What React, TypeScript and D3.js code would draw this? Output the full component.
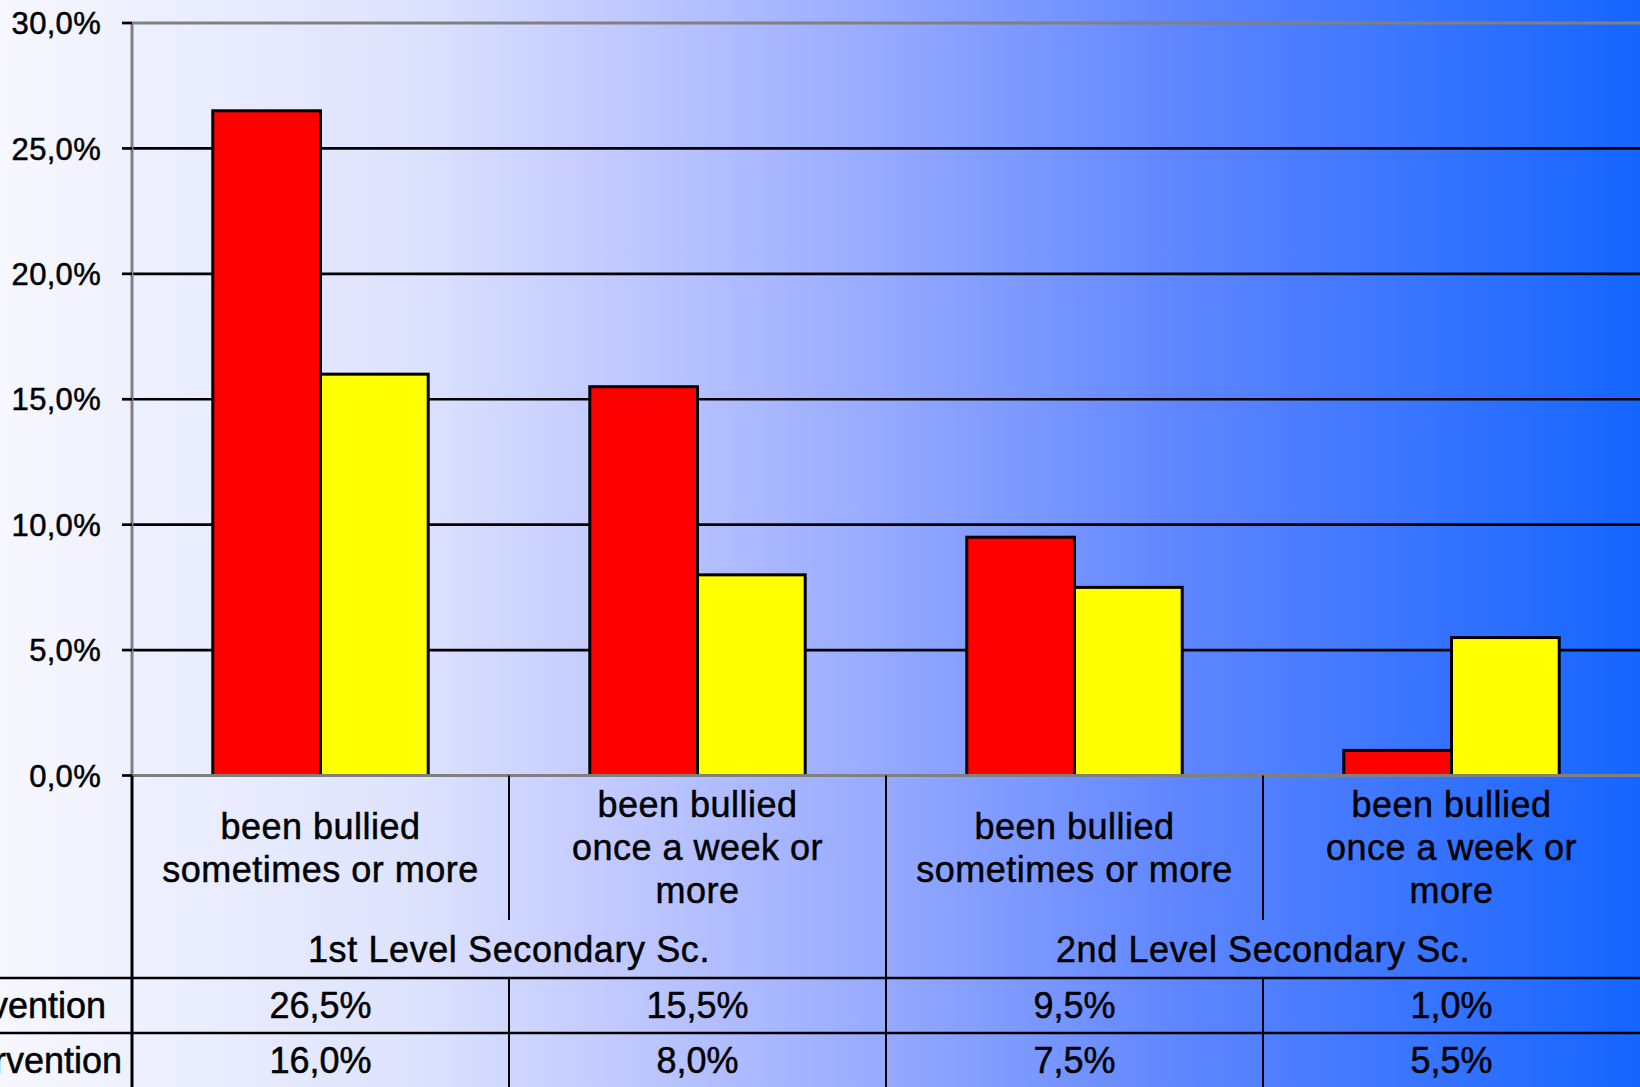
import React from "react";
import * as d3 from "d3";

// Survey results: share of pupils bullied, before and after the intervention
const categories = ["c1", "c2", "c3", "c4"];
const categoryLines = [
  ["been bullied", "sometimes or more"],
  ["been bullied", "once a week or", "more"],
  ["been bullied", "sometimes or more"],
  ["been bullied", "once a week or", "more"],
];
const groups = ["1st Level Secondary Sc.", "2nd Level Secondary Sc."];
const groupOfCategory = [0, 0, 1, 1];
const seriesNames = ["Pre-intervention", "Post-intervention"];
const preValues = [26.5, 15.5, 9.5, 1.0];
const postValues = [16.0, 8.0, 7.5, 5.5];
const seriesColors = ["#ff0000", "#ffff00"];
const yTicks = [0, 5, 10, 15, 20, 25, 30];

const W = 1640;
const H = 1087;
const FONT = "'Liberation Sans', Arial, Helvetica, sans-serif";

const fmt = (v: number) => v.toFixed(1).replace(".", ",") + "%";

// shared text styling: slightly heavy strokes, like the bitmap-rendered Arial
const textStyle = { stroke: "#000", strokeWidth: 0.5 } as const;

export default function App() {
  const left = 132;
  const right = 1640;
  const top = 23;
  const bottom = 775.5;
  const catRowBottom = 920;
  const groupRowBottom = 978;
  const row2Bottom = 1033;
  const row3Bottom = 1088;

  const y = d3.scaleLinear().domain([0, 30]).range([bottom, top]);
  const x0 = d3.scaleBand<string>().domain(categories).range([left, right]).padding(0);
  const x1 = d3
    .scaleBand<number>()
    .domain([0, 1])
    .range([0, x0.bandwidth()])
    .paddingInner(0)
    .paddingOuter(0.75);

  const series = [preValues, postValues];
  const bw = x0.bandwidth();
  const lineH = 43;
  const catMid = (bottom + catRowBottom) / 2;

  const groupExtent = groups.map((_, gi) => {
    const cats = categories.filter((_, i) => groupOfCategory[i] === gi);
    const a = x0(cats[0])!;
    const b = x0(cats[cats.length - 1])! + bw;
    return [a, b];
  });

  const rowMids = [(groupRowBottom + row2Bottom) / 2, (row2Bottom + row3Bottom) / 2];

  return (
    <svg
      width={W}
      height={H}
      style={{ position: "absolute", left: 0, top: 0, display: "block" }}
      fontFamily={FONT}
    >
      <defs>
        <linearGradient id="bg" x1="0" y1="0" x2="1" y2="0">
          <stop offset="0" stopColor="#f6f7ff" />
          <stop offset="0.25" stopColor="#dee3fd" />
          <stop offset="0.37" stopColor="#c2caff" />
          <stop offset="0.49" stopColor="#a4b3ff" />
          <stop offset="0.73" stopColor="#5c84ff" />
          <stop offset="1" stopColor="#1565ff" />
        </linearGradient>
      </defs>
      <rect x={0} y={0} width={W} height={H} fill="url(#bg)" />

      {/* gridlines */}
      {yTicks
        .filter((t) => t > 0 && t < 30)
        .map((t) => (
          <line key={t} x1={left} x2={right} y1={y(t)} y2={y(t)} stroke="#000" strokeWidth={2.7} />
        ))}
      <line x1={left} x2={right} y1={y(30)} y2={y(30)} stroke="#808080" strokeWidth={3} />

      {/* bars */}
      {categories.map((c, ci) =>
        series.map((vals, si) => (
          <rect
            key={c + si}
            x={x0(c)! + x1(si)!}
            y={y(vals[ci])}
            width={x1.bandwidth()}
            height={y(0) - y(vals[ci])}
            fill={seriesColors[si]}
            stroke="#000"
            strokeWidth={3}
          />
        ))
      )}

      <line x1={left} x2={right} y1={y(0)} y2={y(0)} stroke="#808080" strokeWidth={3} />
      <line x1={left} x2={left} y1={y(30)} y2={y(0)} stroke="#808080" strokeWidth={3} />

      {/* y axis ticks */}
      {yTicks.map((t) => (
        <g key={t}>
          <line x1={122} x2={left} y1={y(t)} y2={y(t)} stroke="#000" strokeWidth={2.7} />
          <text
            x={101}
            y={y(t)}
            dy="0.36em"
            textAnchor="end"
            fontSize={31}
            fill="#000"
            letterSpacing={0.3}
            {...textStyle}
          >
            {fmt(t)}
          </text>
        </g>
      ))}

      {/* data table: frame */}
      <line x1={left} x2={left} y1={bottom} y2={H} stroke="#000" strokeWidth={3} />
      {categories.map((c, ci) =>
        ci > 0 ? (
          <line
            key={"cd" + c}
            x1={x0(c)!}
            x2={x0(c)!}
            y1={bottom}
            y2={groupOfCategory[ci] !== groupOfCategory[ci - 1] ? H : catRowBottom}
            stroke="#000"
            strokeWidth={2}
          />
        ) : null
      )}
      {categories.map((c, ci) =>
        ci > 0 ? (
          <line key={"rd" + c} x1={x0(c)!} x2={x0(c)!} y1={groupRowBottom} y2={H} stroke="#000" strokeWidth={2} />
        ) : null
      )}
      <line x1={0} x2={right} y1={groupRowBottom} y2={groupRowBottom} stroke="#000" strokeWidth={2.5} />
      <line x1={0} x2={right} y1={row2Bottom} y2={row2Bottom} stroke="#000" strokeWidth={2.5} />

      {/* category labels */}
      {categories.map((c, ci) => {
        const lines = categoryLines[ci];
        const cx = x0(c)! + bw / 2;
        return lines.map((ln, li) => (
          <text
            key={c + li}
            x={cx}
            y={catMid - ((lines.length - 1) * lineH) / 2 + li * lineH}
            dy="0.35em"
            textAnchor="middle"
            fontSize={36}
            fill="#000"
            letterSpacing={0.5}
            {...textStyle}
          >
            {ln}
          </text>
        ));
      })}

      {/* group labels */}
      {groups.map((g, gi) => (
        <text
          key={g}
          x={(groupExtent[gi][0] + groupExtent[gi][1]) / 2}
          y={(catRowBottom + groupRowBottom) / 2}
          dy="0.35em"
          textAnchor="middle"
          fontSize={36}
          fill="#000"
          letterSpacing={0.6}
          {...textStyle}
        >
          {g}
        </text>
      ))}

      {/* series rows */}
      {series.map((vals, si) => (
        <g key={"row" + si}>
          <text
            x={-148}
            y={rowMids[si]}
            dy="0.35em"
            textAnchor="start"
            fontSize={36}
            fill="#000"
            {...textStyle}
          >
            {seriesNames[si]}
          </text>
          {categories.map((c, ci) => (
            <text
              key={c}
              x={x0(c)! + bw / 2}
              y={rowMids[si]}
              dy="0.35em"
              textAnchor="middle"
              fontSize={36}
              fill="#000"
              {...textStyle}
            >
              {fmt(vals[ci])}
            </text>
          ))}
        </g>
      ))}
    </svg>
  );
}
